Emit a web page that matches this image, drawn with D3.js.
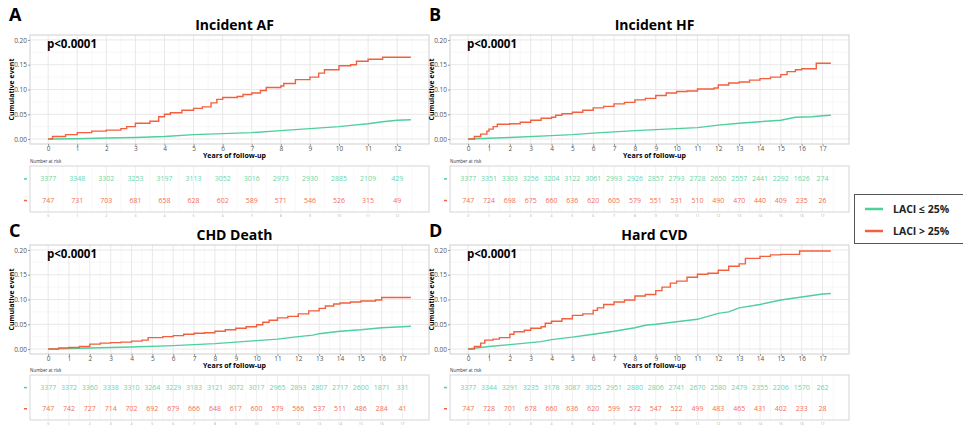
<!DOCTYPE html>
<meta charset="utf-8">
<script src="https://cdn.jsdelivr.net/npm/d3@7"></script>
<title>LACI cumulative events</title>
<style>
  body { margin: 0; background: #fff; }
  text { font-family: "Open Sans", "Noto Sans", sans-serif; }
</style>
<body>
<script>
// group colours
var colLow = "#4fcf9b", colHigh = "#f2603f";
var colLowTxt = "#6cd6a8", colHighTxt = "#f37055";

// years shown on each x axis
var yearsA = d3.range(0, 13);
var yearsB = d3.range(0, 18);
var yTicks = [0, 0.05, 0.10, 0.15, 0.20];

// cumulative event curves, [year, value]
var afLow = [[0,0],[1,0.0005],[2,0.002],[3,0.003],[4,0.005],[5,0.009],[6,0.011],[7,0.013],[8,0.017],
  [9,0.021],[10,0.025],[10.5,0.028],[11,0.031],[11.5,0.035],[12,0.038],[12.47,0.039]];
var afHigh = [[0,0],[0.15,0.005],[0.6,0.009],[1.0,0.013],[1.5,0.016],[2,0.018],[2.5,0.021],[2.7,0.025],
  [3,0.032],[3.5,0.036],[3.8,0.045],[4,0.05],[4.2,0.053],[4.6,0.058],[5,0.062],[5.3,0.065],[5.6,0.073],
  [5.8,0.08],[6,0.084],[6.5,0.086],[6.7,0.09],[7,0.093],[7.3,0.098],[7.5,0.104],[8,0.107],[8.1,0.112],
  [8.5,0.12],[9,0.125],[9.3,0.133],[9.5,0.14],[10,0.148],[10.4,0.15],[10.6,0.157],[11,0.161],[11.5,0.165],[12.47,0.165]];
var hfLow = [[0,0],[2,0.003],[4,0.007],[5,0.009],[6,0.012],[8,0.017],[10,0.021],[11,0.023],[12,0.028],
  [13,0.032],[14,0.035],[15,0.038],[15.7,0.044],[16.5,0.045],[17,0.047],[17.4,0.048]];
var hfHigh = [[0,0],[0.3,0.005],[0.6,0.01],[0.9,0.016],[1.0,0.02],[1.2,0.025],[1.4,0.03],[2,0.031],
  [2.5,0.034],[3,0.038],[3.5,0.042],[4,0.044],[4.2,0.048],[4.5,0.051],[5,0.054],[5.5,0.058],[6,0.063],
  [6.5,0.066],[7,0.071],[7.5,0.074],[8,0.079],[8.5,0.082],[9,0.088],[9.5,0.093],[10,0.096],[10.5,0.097],
  [11,0.101],[11.8,0.103],[12,0.109],[12.5,0.113],[13,0.115],[13.5,0.119],[14,0.122],[14.5,0.125],
  [15,0.13],[15.3,0.136],[15.7,0.14],[16,0.142],[16.7,0.153],[17.4,0.153]];
var chdLow = [[0,0],[2,0.002],[4,0.004],[6,0.007],[8,0.011],[9,0.014],[10,0.017],[11,0.02],[12,0.025],
  [12.7,0.028],[13,0.031],[14,0.036],[15,0.039],[16,0.043],[17,0.045],[17.4,0.046]];
var chdHigh = [[0,0],[0.5,0.002],[1,0.003],[1.5,0.005],[2,0.01],[2.5,0.012],[3,0.013],[3.5,0.014],
  [4,0.016],[4.5,0.018],[4.8,0.023],[5.5,0.025],[6,0.027],[6.5,0.03],[7,0.032],[7.5,0.033],[8,0.036],
  [8.5,0.039],[9,0.042],[9.5,0.045],[10,0.049],[10.3,0.054],[10.6,0.058],[11,0.063],[11.5,0.066],
  [12,0.071],[12.5,0.077],[13,0.082],[13.3,0.087],[13.7,0.091],[14,0.093],[14.5,0.095],[15,0.097],
  [15.7,0.099],[16,0.104],[17.4,0.104]];
var cvdLow = [[0,0],[1,0.005],[2,0.009],[3,0.013],[3.5,0.015],[4,0.019],[5,0.024],[6,0.03],[7,0.036],
  [8,0.043],[8.5,0.048],[9,0.05],[10,0.055],[11,0.06],[11.5,0.066],[12,0.072],[12.5,0.075],[13,0.083],
  [14,0.09],[15,0.099],[16,0.105],[17,0.111],[17.4,0.112]];
var cvdHigh = [[0,0],[0.3,0.005],[0.6,0.012],[0.8,0.018],[1.2,0.02],[1.5,0.023],[2,0.03],[2.2,0.035],
  [2.7,0.038],[3,0.042],[3.5,0.045],[3.7,0.052],[4,0.056],[4.5,0.061],[5,0.068],[5.5,0.071],[6,0.078],
  [6.2,0.083],[6.5,0.09],[7,0.095],[7.5,0.099],[8,0.107],[8.5,0.11],[9,0.118],[9.3,0.125],[9.7,0.133],
  [10,0.137],[10.5,0.145],[11,0.151],[11.5,0.153],[12,0.159],[12.5,0.167],[13,0.172],[13.3,0.183],
  [14,0.187],[14.5,0.19],[15,0.191],[15.9,0.198],[17.4,0.198]];

// number at risk
var afRiskLow = [3377,3348,3302,3253,3197,3113,3052,3016,2973,2930,2885,2109,429];
var afRiskHigh = [747,731,703,681,658,628,602,589,571,546,526,315,49];
var hfRiskLow = [3377,3351,3303,3256,3204,3122,3061,2993,2926,2857,2793,2728,2650,2557,2441,2292,1626,274];
var hfRiskHigh = [747,724,698,675,660,636,620,605,579,551,531,510,490,470,440,409,235,26];
var chdRiskLow = [3377,3372,3360,3338,3310,3264,3229,3183,3121,3072,3017,2965,2893,2807,2717,2600,1871,331];
var chdRiskHigh = [747,742,727,714,702,692,679,666,648,617,600,579,566,537,511,486,284,41];
var cvdRiskLow = [3377,3344,3291,3235,3178,3087,3025,2951,2880,2806,2741,2670,2580,2479,2355,2206,1570,262];
var cvdRiskHigh = [747,728,701,678,660,636,620,599,572,547,522,499,483,465,431,402,233,28];

var legendLabels = ["LACI \u2264 25%", "LACI > 25%"];

var panels = [
  {tag: "A", title: "Incident AF", years: yearsA, tMax: 12.47, low: afLow, high: afHigh,
   riskLow: afRiskLow, riskHigh: afRiskHigh, left: 30, right: 429, top: 35, bottom: 144, tTop: 166, tBot: 212, tagY: 21},
  {tag: "B", title: "Incident HF", years: yearsB, tMax: 17.4, low: hfLow, high: hfHigh,
   riskLow: hfRiskLow, riskHigh: hfRiskHigh, left: 450, right: 849, top: 35, bottom: 144, tTop: 166, tBot: 212, tagY: 21},
  {tag: "C", title: "CHD Death", years: yearsB, tMax: 17.4, low: chdLow, high: chdHigh,
   riskLow: chdRiskLow, riskHigh: chdRiskHigh, left: 30, right: 429, top: 245, bottom: 354, tTop: 375, tBot: 420, tagY: 237},
  {tag: "D", title: "Hard CVD", years: yearsB, tMax: 17.4, low: cvdLow, high: cvdHigh,
   riskLow: cvdRiskLow, riskHigh: cvdRiskHigh, left: 450, right: 849, top: 245, bottom: 354, tTop: 375, tBot: 420, tagY: 237}
];

var svg = d3.select("body").append("svg")
    .attr("width", 963)
    .attr("height", 426);

var sansSmall = "Liberation Sans, Arial, sans-serif";

panels.forEach(function(p) {
  var pad = p.tMax * 0.05;
  var x = d3.scaleLinear().domain([-pad, p.tMax + pad]).range([p.left, p.right]);
  var y = d3.scaleLinear().domain([-0.01, 0.21]).range([p.bottom, p.top]);
  var g = svg.append("g");

  // panel letter and title
  g.append("text").attr("x", p.left - 21).attr("y", p.tagY)
      .attr("font-size", 18).attr("font-weight", 700).text(p.tag);
  g.append("text").attr("x", (p.left + p.right) / 2 + 5).attr("y", p.top - 5)
      .attr("text-anchor", "middle").attr("font-size", 14).attr("font-weight", 700).text(p.title);

  // grid
  var minorX = d3.range(0.5, p.tMax + pad, 1);
  var minorY = [0.025, 0.075, 0.125, 0.175];
  g.selectAll(".mx").data(minorX).enter().append("line")
      .attr("x1", d => x(d)).attr("x2", d => x(d)).attr("y1", p.top).attr("y2", p.bottom)
      .attr("stroke", "#f3f3f3").attr("stroke-width", 0.6);
  g.selectAll(".my").data(minorY).enter().append("line")
      .attr("x1", p.left).attr("x2", p.right).attr("y1", d => y(d)).attr("y2", d => y(d))
      .attr("stroke", "#f3f3f3").attr("stroke-width", 0.6);
  g.selectAll(".gx").data(p.years).enter().append("line")
      .attr("x1", d => x(d)).attr("x2", d => x(d)).attr("y1", p.top).attr("y2", p.bottom)
      .attr("stroke", "#e8e8e8").attr("stroke-width", 1);
  g.selectAll(".gy").data(yTicks).enter().append("line")
      .attr("x1", p.left).attr("x2", p.right).attr("y1", d => y(d)).attr("y2", d => y(d))
      .attr("stroke", "#e8e8e8").attr("stroke-width", 1);
  g.append("rect").attr("x", p.left).attr("y", p.top)
      .attr("width", p.right - p.left).attr("height", p.bottom - p.top)
      .attr("fill", "none").attr("stroke", "#cfcfcf").attr("stroke-width", 1);

  // axes
  var ax = g.append("g").attr("transform", "translate(0," + p.bottom + ")")
      .call(d3.axisBottom(x).tickValues(p.years).tickSize(2).tickPadding(0).tickFormat(d3.format("d")));
  var ay = g.append("g").attr("transform", "translate(" + p.left + ",0)")
      .call(d3.axisLeft(y).tickValues(yTicks).tickSize(2).tickPadding(1).tickFormat(d3.format(".2f")));
  [ax, ay].forEach(function(a) {
    a.select(".domain").remove();
    a.selectAll("line").attr("stroke", "#999");
    a.selectAll("text").attr("fill", "#555").attr("font-size", 6.5).attr("font-family", sansSmall);
  });
  g.append("text").attr("x", (p.left + p.right) / 2 + 5).attr("y", p.bottom + 14)
      .attr("text-anchor", "middle").attr("font-size", 7).attr("font-weight", 700)
      .attr("font-family", sansSmall).text("Years of follow-up");
  g.append("text").attr("transform", "translate(" + (p.left - 16) + "," + ((p.top + p.bottom) / 2) + ") rotate(-90)")
      .attr("text-anchor", "middle").attr("font-size", 7).attr("font-weight", 700)
      .attr("font-family", sansSmall).text("Cumulative event");

  g.append("text").attr("x", p.left + 17).attr("y", p.top + 13)
      .attr("font-size", 11.5).attr("font-weight", 700).text("p<0.0001");

  // curves
  var lineLow = d3.line().x(d => x(d[0])).y(d => y(d[1])).curve(d3.curveLinear);
  var lineHigh = d3.line().x(d => x(d[0])).y(d => y(d[1])).curve(d3.curveStepAfter);
  g.append("path").datum(p.low).attr("d", lineLow)
      .attr("fill", "none").attr("stroke", colLow).attr("stroke-width", 1.4);
  g.append("path").datum(p.high).attr("d", lineHigh)
      .attr("fill", "none").attr("stroke", colHigh).attr("stroke-width", 1.4);

  // number at risk table
  g.append("text").attr("x", p.left).attr("y", p.tTop - 3)
      .attr("font-size", 4.5).attr("fill", "#333").attr("font-family", sansSmall).text("Number at risk");
  g.selectAll(".tmx").data(minorX).enter().append("line")
      .attr("x1", d => x(d)).attr("x2", d => x(d)).attr("y1", p.tTop).attr("y2", p.tBot)
      .attr("stroke", "#f5f5f5").attr("stroke-width", 0.6);
  g.selectAll(".tgx").data(p.years).enter().append("line")
      .attr("x1", d => x(d)).attr("x2", d => x(d)).attr("y1", p.tTop).attr("y2", p.tBot)
      .attr("stroke", "#efefef").attr("stroke-width", 1);
  var rowLow = p.tTop + (p.tBot - p.tTop) * 0.28;
  var rowHigh = p.tTop + (p.tBot - p.tTop) * 0.75;
  g.append("rect").attr("x", p.left).attr("y", p.tTop)
      .attr("width", p.right - p.left).attr("height", p.tBot - p.tTop)
      .attr("fill", "none").attr("stroke", "#d5d5d5").attr("stroke-width", 1);

  g.selectAll(".rl").data(p.riskLow).enter().append("text")
      .attr("x", (d, i) => x(p.years[i])).attr("y", rowLow + 2.5)
      .attr("text-anchor", "middle").attr("font-size", 7).attr("fill", colLowTxt)
      .attr("font-family", sansSmall).text(d => d);
  g.selectAll(".rh").data(p.riskHigh).enter().append("text")
      .attr("x", (d, i) => x(p.years[i])).attr("y", rowHigh + 2.5)
      .attr("text-anchor", "middle").attr("font-size", 7).attr("fill", colHighTxt)
      .attr("font-family", sansSmall).text(d => d);
  // strata dashes
  [[rowLow, colLow], [rowHigh, colHigh]].forEach(function(r) {
    g.append("line").attr("x1", p.left - 6).attr("x2", p.left - 3).attr("y1", r[0]).attr("y2", r[0])
        .attr("stroke", r[1]).attr("stroke-width", 1.5);
  });
  // faint table ticks
  g.selectAll(".tt").data(p.years).enter().append("text")
      .attr("x", d => x(d)).attr("y", p.tBot + 4.5)
      .attr("text-anchor", "middle").attr("font-size", 3.5).attr("fill", "#aaa")
      .attr("font-family", sansSmall).text(d => d);
});

// legend
var lg = svg.append("g");
lg.append("rect").attr("x", 854.5).attr("y", 194.5).attr("width", 120).attr("height", 49)
    .attr("fill", "#fff").attr("stroke", "#555").attr("stroke-width", 1);
[colLow, colHigh].forEach(function(c, i) {
  var yy = 209 + i * 22;
  lg.append("line").attr("x1", 865).attr("x2", 883).attr("y1", yy).attr("y2", yy)
      .attr("stroke", c).attr("stroke-width", 2.5);
  lg.append("text").attr("x", 893).attr("y", yy + 4)
      .attr("font-size", 10.5).attr("font-weight", 700).attr("fill", "#222").text(legendLabels[i]);
});
</script>
</body>
